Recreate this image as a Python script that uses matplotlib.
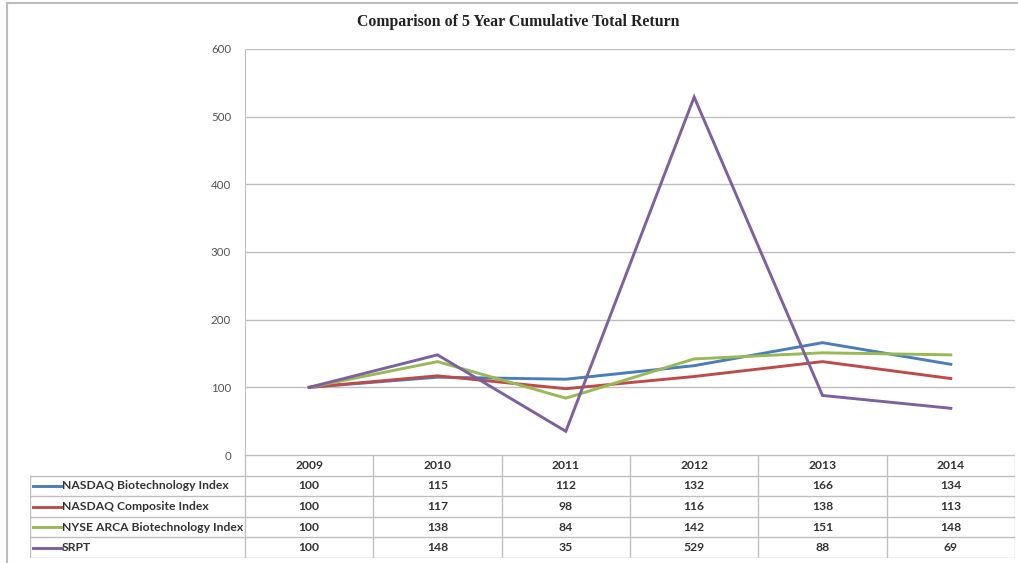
import matplotlib.pyplot as plt
from matplotlib.lines import Line2D

# chart data
years = ["2009", "2010", "2011", "2012", "2013", "2014"]
series_names = ["NASDAQ Biotechnology Index", "NASDAQ Composite Index",
                "NYSE ARCA Biotechnology Index", "SRPT"]
nasdaq_bio = [100, 115, 112, 132, 166, 134]
nasdaq_comp = [100, 117, 98, 116, 138, 113]
nyse_arca_bio = [100, 138, 84, 142, 151, 148]
srpt = [100, 148, 35, 529, 88, 69]
y_ticks = [0, 100, 200, 300, 400, 500, 600]

all_series = [nasdaq_bio, nasdaq_comp, nyse_arca_bio, srpt]
colors = ["#4A7EBB", "#BE4B48", "#98B954", "#7D60A0"]

W, H = 1018, 563
fig = plt.figure(figsize=(W / 100, H / 100), dpi=100)

# plot area in pixel terms
px_l, px_r, px_t, px_b = 245, 1015, 49, 455
ax = fig.add_axes([px_l / W, 1 - px_b / H, (px_r - px_l) / W, (px_b - px_t) / H])

x = list(range(len(years)))
for vals, col in zip(all_series, colors):
    ax.plot(x, vals, color=col, lw=2.1, solid_joinstyle="miter", zorder=3)

ax.set_xlim(-0.5, len(years) - 0.5)
ax.set_ylim(0, 600)
ax.set_yticks(y_ticks)
ax.set_yticklabels([str(v) for v in y_ticks], fontsize=8.3, color="#555555", family="Lato")
ax.tick_params(axis="y", length=0, pad=10)
ax.set_xticks([])
ax.grid(axis="y", color="#BFBFBF", lw=1)
ax.set_axisbelow(True)
for s in ["top", "right", "bottom"]:
    ax.spines[s].set_visible(False)
ax.spines["left"].set_color("#BFBFBF")

# data table under the plot
tb_l, tb_b = 30, 558
unit = (px_r - px_l) / len(years)
x_left = -0.5 - (px_l - tb_l) / unit
tax = fig.add_axes([tb_l / W, 1 - tb_b / H, (px_r - tb_l) / W, (tb_b - px_b) / H])
tax.set_xlim(x_left, len(years) - 0.5)
nrows = len(all_series) + 1
tax.set_ylim(nrows, 0)
tax.axis("off")

grid_c = "#BFBFBF"
tax.plot([-0.5, len(years) - 0.5], [0, 0], color=grid_c, lw=1)
for r in range(1, nrows + 1):
    tax.plot([x_left, len(years) - 0.5], [r, r], color=grid_c, lw=1)
tax.plot([x_left, x_left], [1, nrows], color=grid_c, lw=1)
for k in range(len(years) + 1):
    tax.plot([k - 0.5, k - 0.5], [0, nrows], color=grid_c, lw=1)

font_t = dict(fontsize=8.7, family="Lato", fontweight="bold", color="#333333")
for i, yr in enumerate(years):
    tax.text(i, 0.5, yr, ha="center", va="center", **font_t)
for r, (name, vals, col) in enumerate(zip(series_names, all_series, colors), start=1):
    ln_x0 = x_left + 3 / unit
    ln_x1 = x_left + 32 / unit
    tax.add_line(Line2D([ln_x0, ln_x1], [r + 0.5, r + 0.5], color=col, lw=2.1))
    tax.text(ln_x1, r + 0.5, name, ha="left", va="center", **font_t)
    for i, v in enumerate(vals):
        tax.text(i, r + 0.5, str(v), ha="center", va="center", **font_t)

# title
fig.text(518 / W, 1 - 22 / H, "Comparison of 5 Year Cumulative Total Return",
         ha="center", va="center", fontsize=11.4, fontweight="bold",
         family="Liberation Serif", color="#222222")

# outer frame (left and top edges)
fig.add_artist(Line2D([7 / W, 7 / W], [0, 1 - 3 / H], transform=fig.transFigure,
                      color="#BBBBBB", lw=1.5))
fig.add_artist(Line2D([7 / W, 1], [1 - 3 / H, 1 - 3 / H], transform=fig.transFigure,
                      color="#BBBBBB", lw=1.5))

fig.savefig("out.png", dpi=100)
